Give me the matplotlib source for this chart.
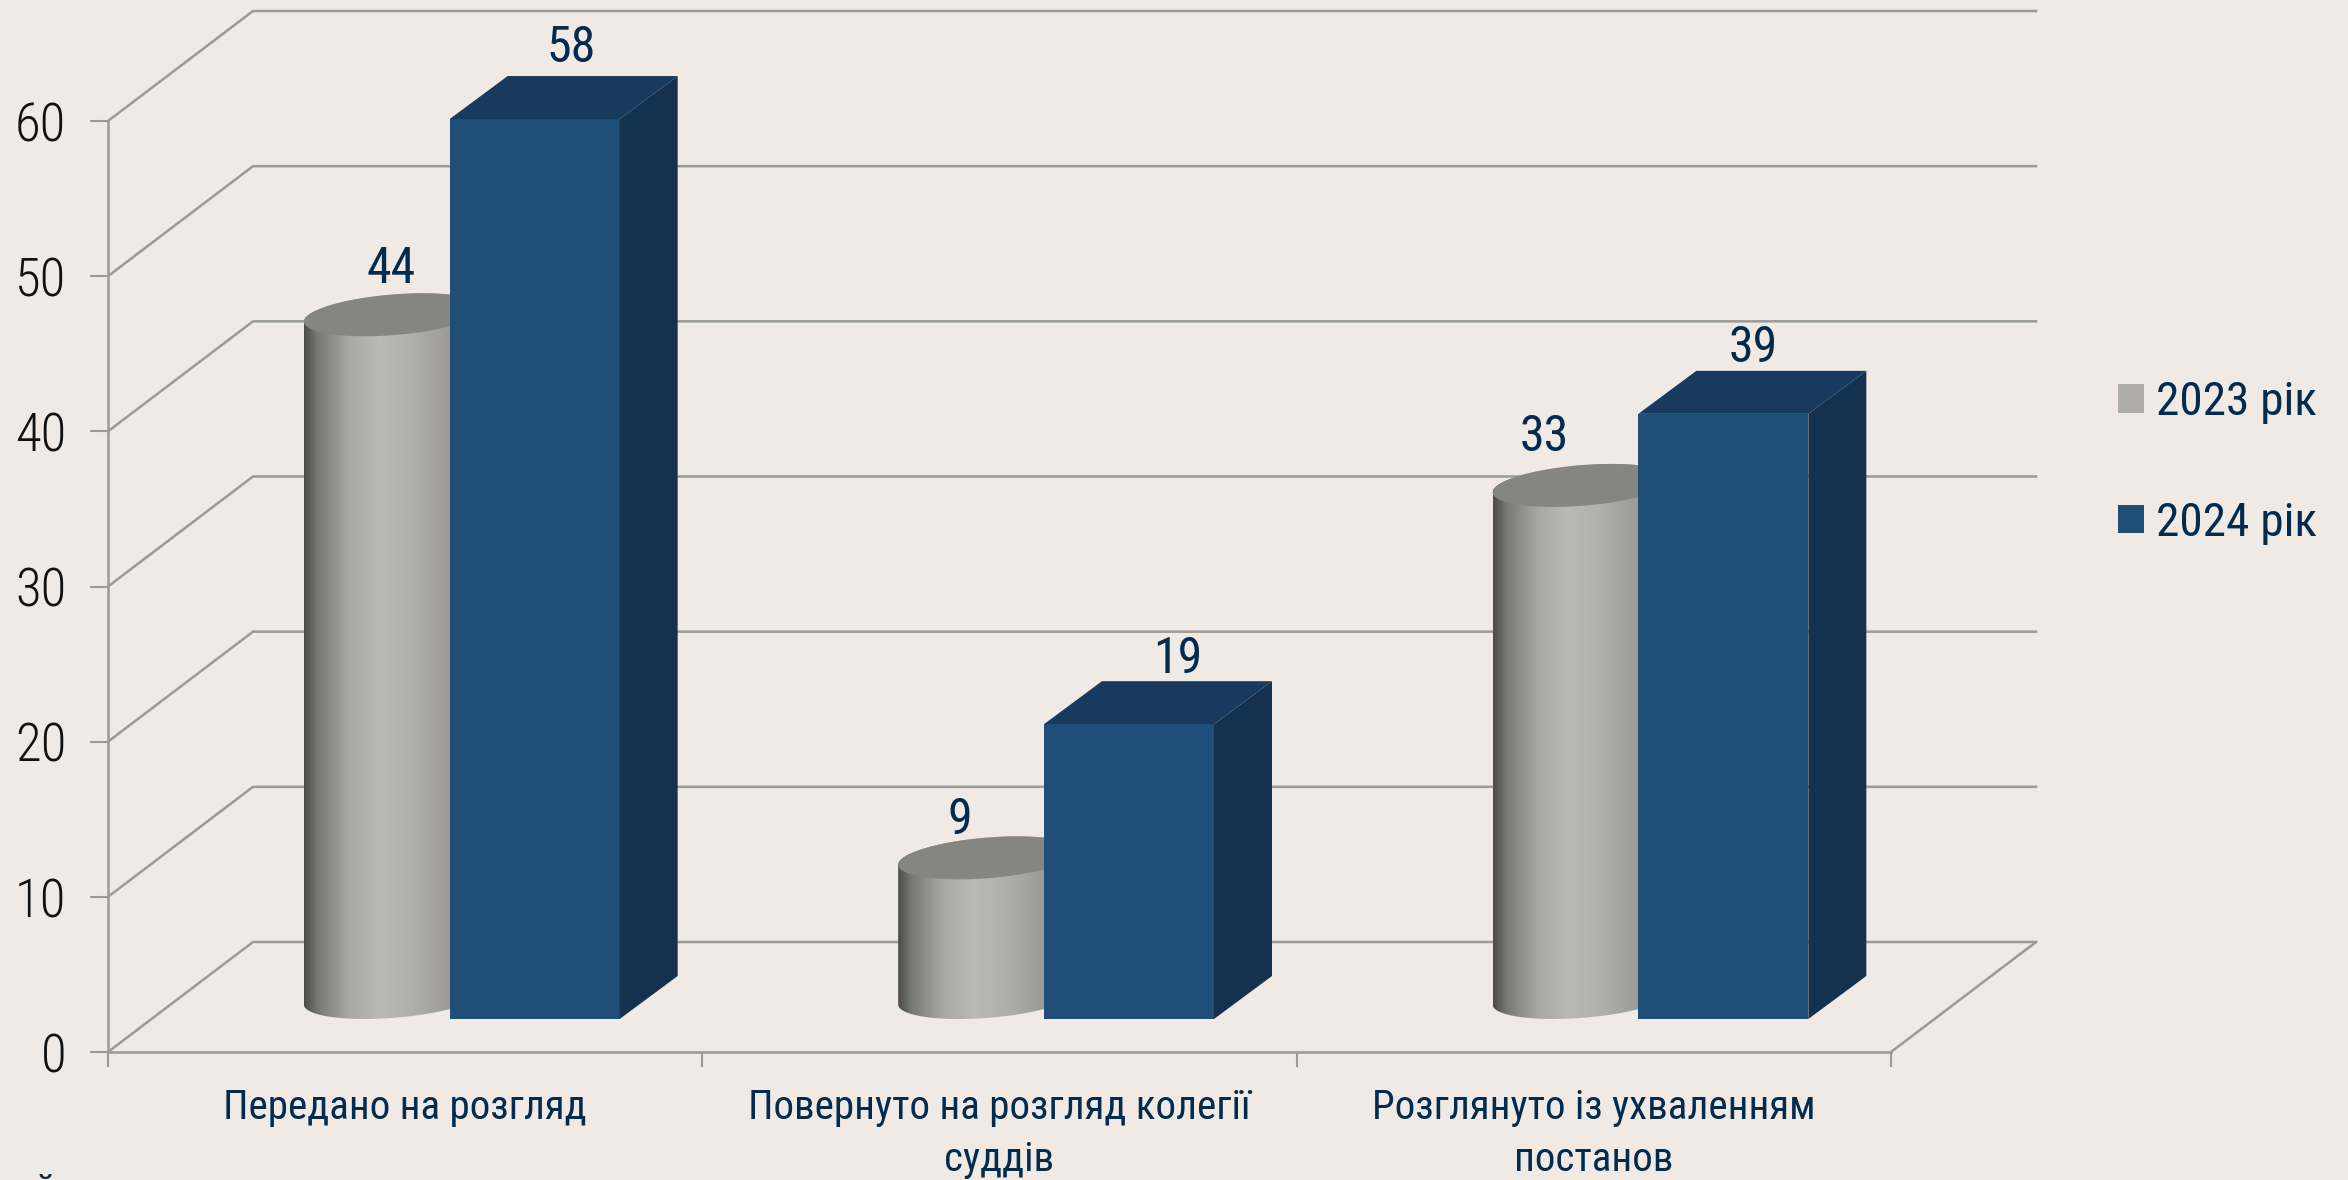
import numpy as np
import matplotlib
matplotlib.use("Agg")
import matplotlib.pyplot as plt
from matplotlib.colors import LinearSegmentedColormap
from matplotlib.patches import Patch, Polygon

plt.rcParams["font.family"] = ["Roboto Condensed", "DejaVu Sans"]

categories = ["Передано на розгляд", "Повернуто на розгляд колегії\nсуддів", "Розглянуто із ухваленням\nпостанов"]
values_2023 = [44, 9, 33]
values_2024 = [58, 19, 39]
series_names = ["2023 рік", "2024 рік"]
y_ticks = [0, 10, 20, 30, 40, 50, 60]

BG = "#f0e9e4"
LINE = "#9b9b96"
TEXT = "#022b50"
W, H = 2348, 1180

fig = plt.figure(figsize=(W / 100, H / 100), dpi=100, facecolor=BG)
ax = fig.add_axes([108 / W, 1 - 1052 / H, (1891 - 108) / W, (1052 - 121) / H], facecolor="none")
ax.set_xlim(0, 3)
ax.set_ylim(0, 60)

# pixel sizes turned into data units
px_x = 3 / (1891 - 108)
px_y = 60 / (1052 - 121)
wall_dx, wall_dy = 145 * px_x, 110 * px_y      # depth of the chart box
gap_dx, gap_dy = 44.5 * px_x, 33 * px_y        # bars sit back from the front plane
bar_w = 170 * px_x
bar_dx, bar_dy = 58 * px_x, 43 * px_y          # depth of one bar

# walls and floor
for v in y_ticks:
    ax.plot([0, wall_dx, 3 + wall_dx], [v, v + wall_dy, v + wall_dy], color=LINE, lw=1.8, clip_on=False, zorder=1)
ax.plot([3, 3 + wall_dx], [0, wall_dy], color=LINE, lw=1.8, clip_on=False, zorder=1)

# cylinder shading, left to right
cyl_cmap = LinearSegmentedColormap.from_list(
    "cyl", [(0, "#4c4c47"), (0.07, "#777771"), (0.25, "#a8a9a1"), (0.42, "#b9bab2"),
            (0.6, "#b0b1a9"), (0.8, "#9c9c94"), (1, "#85857f")])
grad = np.linspace(0, 1, 256).reshape(1, -1)


def ellipse(cx, cy, start, stop):
    t = np.linspace(start, stop, 80)
    return cx + bar_w / 2 * np.cos(t) + bar_dx / 2 * np.sin(t), cy + bar_dy / 2 * np.sin(t)


# angle where the skewed circle reaches its right extreme, in pixels
t0 = np.arctan2(58 / 2, 170 / 2)
half_w = np.hypot(bar_w / 2, bar_dx / 2)

for i, (v23, v24) in enumerate(zip(values_2023, values_2024)):
    left = i + 0.5 + gap_dx

    # 2023 cylinder
    cx = left - bar_w / 2 + bar_dx / 2
    cy = gap_dy + bar_dy / 2
    lx, ly = ellipse(cx, cy, np.pi + t0, 2 * np.pi + t0)
    ux, uy = ellipse(cx, cy + v23, t0, np.pi + t0)
    body = Polygon(np.column_stack([np.r_[lx, ux], np.r_[ly, uy]]), closed=True, fc="none", ec="none", clip_on=False)
    ax.add_patch(body)
    im = ax.imshow(grad, cmap=cyl_cmap, aspect="auto", zorder=2,
                   extent=[cx - half_w, cx + half_w, 0, cy + v23 + bar_dy])
    im.set_clip_path(body)
    tx, ty = ellipse(cx, cy + v23, 0, 2 * np.pi)
    ax.fill(tx, ty, color="#868680", lw=0, zorder=3, clip_on=False)

    # 2024 box
    bottom = gap_dy
    top = gap_dy + v24
    ax.bar(left, v24, bar_w, bottom=bottom, align="edge", color="#1f4e79", lw=0, zorder=4, clip_on=False)
    ax.fill([left + bar_w, left + bar_w + bar_dx, left + bar_w + bar_dx, left + bar_w],
            [bottom, bottom + bar_dy, top + bar_dy, top], color="#14324f", lw=0, zorder=4, clip_on=False)
    ax.fill([left, left + bar_w, left + bar_w + bar_dx, left + bar_dx],
            [top, top, top + bar_dy, top + bar_dy], color="#173a5e", lw=0, zorder=4, clip_on=False)

# value labels, nudged by hand like in the source chart (pixels from the bar top centre)
nudge_2023 = [(-2, 24), (-28, 16), (-38, 27)]
nudge_2024 = [(8, 28), (20, 22), (1, 23)]
for i, (v23, v24) in enumerate(zip(values_2023, values_2024)):
    left = i + 0.5 + gap_dx
    cx = left - bar_w / 2 + bar_dx / 2
    ax.annotate(str(v23), (cx, gap_dy + bar_dy + v23), xytext=(nudge_2023[i][0] * 0.72, nudge_2023[i][1] * 0.72),
                textcoords="offset points", ha="center", va="center", fontsize=36, color=TEXT, zorder=6, annotation_clip=False)
    ax.annotate(str(v24), (left + bar_w / 2 + bar_dx / 2, gap_dy + bar_dy + v24),
                xytext=(nudge_2024[i][0] * 0.72, nudge_2024[i][1] * 0.72),
                textcoords="offset points", ha="center", va="center", fontsize=36, color=TEXT, zorder=6, annotation_clip=False)

# axes
for s in ["top", "right"]:
    ax.spines[s].set_visible(False)
for s in ["left", "bottom"]:
    ax.spines[s].set_color(LINE)
    ax.spines[s].set_linewidth(1.8)
ax.set_yticks(y_ticks)
ax.tick_params(axis="y", length=13, width=1.5, color=LINE, labelsize=38, labelcolor="#111111", pad=17)
for lab in ax.get_yticklabels():
    lab.set_fontweight(300)
ax.set_xticks([0, 1, 2, 3])
ax.set_xticklabels([])
ax.set_xticks([0.5, 1.5, 2.5], minor=True)
ax.set_xticklabels(categories, minor=True, fontsize=29.5, color=TEXT, linespacing=1.42)
ax.tick_params(axis="x", which="major", length=11, width=1.5, color=LINE)
ax.tick_params(axis="x", which="minor", length=0, pad=26)

handles = [Patch(fc="#aeaea6", ec="none"), Patch(fc="#1f4e79", ec="none")]
fig.legend(handles, series_names, loc="upper left", bbox_to_anchor=(2118 / W, 1 - 380 / H),
           frameon=False, fontsize=34, handlelength=0.55, handleheight=0.55, handletextpad=0.26,
           labelspacing=1.63, labelcolor=TEXT, borderpad=0, borderaxespad=0)

# top of a cut off line of text at the lower edge
fig.text(46 / W, 1 - 1172 / H, "й", fontsize=30, color=TEXT, ha="center", va="top")

fig.savefig("out.png", dpi=100, facecolor=BG)
